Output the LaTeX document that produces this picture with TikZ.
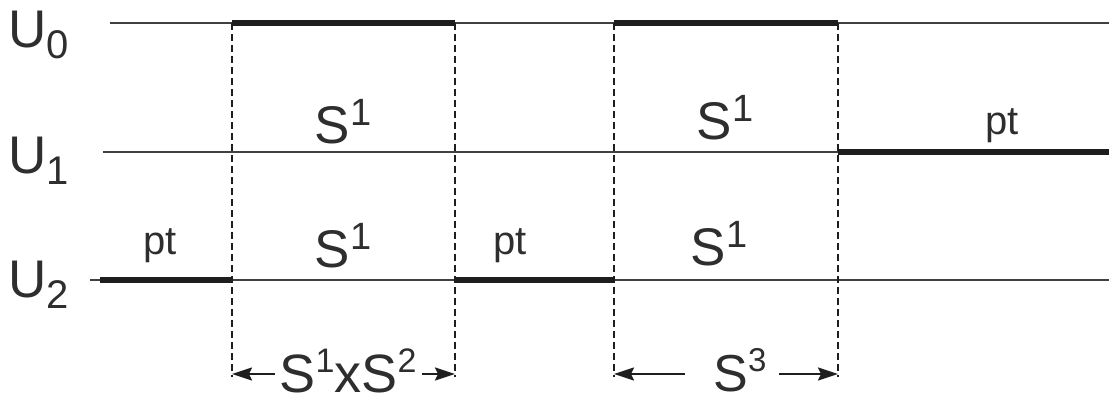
\documentclass[tikz,border=0pt]{standalone}
\usepackage{fontspec}
\setmainfont{Liberation Sans}
\usetikzlibrary{arrows.meta}
\newcommand\mysup[3]{\raisebox{#2}{\fontsize{#1}{#1}\selectfont #3}}
\newcommand\mysub[3]{\raisebox{-#2}{\fontsize{#1}{#1}\selectfont #3}}
\definecolor{ink}{HTML}{1E1E1E}
\definecolor{txt}{HTML}{2E2E2E}
\begin{document}
\begin{tikzpicture}[x=1pt,y=-1pt,
  thinline/.style={draw=ink!85,line width=1.2pt},
  thickline/.style={draw=ink,line width=6.5pt},
  dashline/.style={draw=ink,line width=1.8pt,dash pattern=on 7pt off 4pt},
  dimarrow/.style={draw=ink,line width=1.8pt,-{Stealth[length=20pt,width=13pt,inset=3pt]}},
  lbl/.style={inner sep=0pt,anchor=base,text=txt},
  big/.style={lbl,font=\fontsize{53}{53}\selectfont},
  small/.style={lbl,font=\fontsize{40}{40}\selectfont}]
\useasboundingbox (0,0) rectangle (1109,402);
% row end points
\coordinate (l0) at (110,23);  \coordinate (r0) at (1109,23);
\coordinate (l1) at (103,152); \coordinate (r1) at (1109,152);
\coordinate (l2) at (90,280);  \coordinate (r2) at (1109,280);
\coordinate (t2) at (100,280);
% vertical positions
\coordinate (a0) at (232,23);  \coordinate (a2) at (232,280); \coordinate (aB) at (232,377);
\coordinate (b0) at (455,23);  \coordinate (b2) at (455,280); \coordinate (bB) at (455,377);
\coordinate (c0) at (614,23);  \coordinate (c2) at (614,280); \coordinate (cB) at (614,377);
\coordinate (d0) at (838,23);  \coordinate (d1) at (838,152); \coordinate (dB) at (838,377);
% thin lines
\draw[thinline] (l0) -- (r0);
\draw[thinline] (l1) -- (r1);
\draw[thinline] (l2) -- (r2);
% dashed verticals
\draw[dashline] (a0) -- (aB);
\draw[dashline] (b0) -- (bB);
\draw[dashline] (c0) -- (cB);
\draw[dashline] (d0) -- (dB);
% thick segments
\draw[thickline] (a0) -- (b0);
\draw[thickline] (c0) -- (d0);
\draw[thickline] (d1) -- (r1);
\draw[thickline] (t2) -- (a2);
\draw[thickline] (b2) -- (c2);
% row labels
\node[big,anchor=base west] (u0) at (8,47) {U\mysub{40}{11pt}{0}};
\node[big,anchor=base west] (u1) at (8,173) {U\mysub{40}{11pt}{1}};
\node[big,anchor=base west] (u2) at (8,297) {U\mysub{40}{11pt}{2}};
% region labels
\node[big] (s1a) at (343,143) {S\mysup{38}{18pt}{1}};
\node[big] (s1b) at (343,267) {S\mysup{38}{18pt}{1}};
\node[big] (s1c) at (725,139) {S\mysup{38}{18pt}{1}};
\node[big] (s1d) at (719,265) {S\mysup{38}{18pt}{1}};
\node[small] (pta) at (160,254) {pt};
\node[small] (ptb) at (510,254) {pt};
\node[small] (ptc) at (1002,134) {pt};
% dimension labels
\node[lbl,font=\fontsize{54}{54}\selectfont] (dimA) at (348,392) {S\mysup{34}{20pt}{1}xS\mysup{34}{20pt}{2}};
\node[lbl,font=\fontsize{52}{52}\selectfont] (dimB) at (740,391) {S\mysup{33}{20pt}{3}};
\coordinate (pA1) at (275,374); \coordinate (pA2) at (422,374);
\coordinate (pB1) at (685,374); \coordinate (pB2) at (779,374);
\coordinate (eA1) at (232,374); \coordinate (eA2) at (455,374);
\coordinate (eB1) at (614,374); \coordinate (eB2) at (838,374);
\draw[dimarrow] (pA1) -- (eA1);
\draw[dimarrow] (pA2) -- (eA2);
\draw[dimarrow] (pB1) -- (eB1);
\draw[dimarrow] (pB2) -- (eB2);
\end{tikzpicture}
\end{document}
